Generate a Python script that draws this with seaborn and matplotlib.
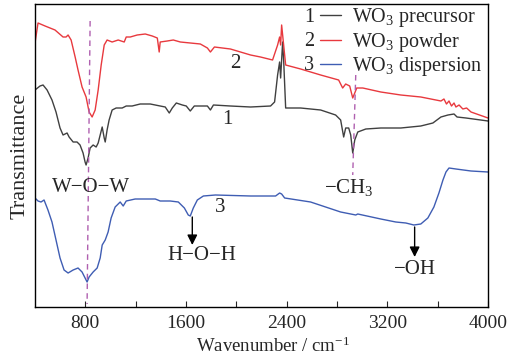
import numpy as np
import pandas as pd
import matplotlib
matplotlib.use("Agg")
import matplotlib.pyplot as plt
import seaborn as sns

# ---------------- data ----------------
wn_precursor = [400, 440, 464, 496, 535, 567, 599, 623, 655, 671, 703, 734, 758, 782, 798, 806,
                822, 838, 862, 886, 902, 918, 934, 950, 958, 973, 989, 1013, 1045, 1093, 1125,
                1172, 1236, 1316, 1395, 1435, 1467, 1491, 1523, 1571, 1602, 1634, 1666, 1714,
                1770, 1794, 1818, 1953, 2113, 2272, 2304, 2328, 2344, 2352, 2368, 2376, 2392,
                2511, 2670, 2789, 2829, 2853, 2869, 2893, 2909, 2925, 2941, 2965, 3029, 3148,
                3307, 3466, 3562, 3626, 3682, 3730, 3754, 3825, 4000]
t_precursor = [217, 221, 222, 217, 207, 195, 179, 172, 174, 170, 165, 165, 162, 154, 145, 142,
               149, 159, 162, 160, 164, 172, 180, 169, 165, 177, 187, 197, 199, 199, 201,
               201, 203, 203, 201, 200, 194, 199, 204, 202, 201, 196, 201, 201,
               201, 197, 202, 201, 200, 201, 205, 232, 245, 229, 265, 247, 199,
               199, 197, 192, 187, 170, 179, 179, 172, 154, 167, 175, 178, 179,
               179, 181, 184, 190, 192, 193, 190, 189, 186]

wn_powder = [400, 424, 480, 559, 623, 647, 663, 687, 719, 742, 774, 806, 830, 854, 878, 902,
             926, 950, 973, 1013, 1061, 1109, 1125, 1157, 1212, 1276, 1332, 1372, 1387, 1395,
             1451, 1499, 1555, 1714, 1770, 1794, 1826, 1953, 2113, 2192, 2288, 2328, 2344,
             2352, 2360, 2376, 2392, 2511, 2670, 2813, 2845, 2869, 2901, 2925, 2957, 3005,
             3148, 3307, 3466, 3626, 3650, 3670, 3690, 3710, 3730, 3745, 3770, 3800, 3830,
             3865, 4000]
t_powder = [264, 284, 281, 277, 270, 270, 272, 267, 250, 237, 220, 210, 195, 190, 197, 217,
            242, 262, 267, 265, 267, 265, 270, 270, 272, 273, 271, 269, 255, 265,
            266, 267, 265, 263, 259, 255, 260, 258, 252, 250, 247, 262, 270,
            262, 282, 262, 242, 238, 232, 227, 219, 223, 221, 209, 219, 219,
            215, 212, 210, 206, 208, 203, 206, 201, 204, 200, 202, 198, 199,
            195, 189]

wn_dispersion = [400, 424, 448, 472, 503, 535, 567, 599, 631, 663, 703, 742, 774, 798, 814, 830,
                 862, 894, 918, 934, 958, 981, 1005, 1037, 1077, 1101, 1125, 1196, 1276, 1356,
                 1395, 1475, 1539, 1587, 1618, 1634, 1658, 1690, 1738, 1834, 2113, 2312, 2344,
                 2360, 2384, 2590, 2829, 2949, 2965, 3148, 3267, 3347, 3411, 3466, 3522, 3570,
                 3610, 3642, 3666, 3690, 3745, 3865, 4000]
t_dispersion = [109, 106, 105, 107, 97, 85, 67, 49, 37, 34, 37, 39, 35, 29, 25, 30,
                35, 39, 49, 62, 67, 75, 89, 100, 105, 101, 106, 108, 108, 108,
                106, 106, 105, 99, 92, 91, 99, 107, 111, 112, 111, 111, 114,
                113, 109, 105, 95, 92, 93, 88, 85, 84, 82, 83, 89, 100,
                114, 127, 135, 139, 138, 136, 135]

series_labels = ["WO$_3$ precursor", "WO$_3$ powder", "WO$_3$ dispersion"]
series_numbers = ["1", "2", "3"]
x_ticks = [800, 1600, 2400, 3200, 4000]
x_minor_ticks = [1200, 2000, 2800, 3600]

# ---------------- style ----------------
sns.set_style("ticks")
plt.rcParams["font.family"] = ["Liberation Serif", "DejaVu Serif"]
plt.rcParams["mathtext.fontset"] = "custom"
plt.rcParams["mathtext.rm"] = "Liberation Serif"
plt.rcParams["mathtext.it"] = "Liberation Serif:italic"
plt.rcParams["axes.unicode_minus"] = True

colors = ["#404040", "#E8393E", "#3F5DB3"]

df = pd.concat([
    pd.DataFrame({"wn": wn_precursor, "T": t_precursor, "s": series_labels[0]}),
    pd.DataFrame({"wn": wn_powder, "T": t_powder, "s": series_labels[1]}),
    pd.DataFrame({"wn": wn_dispersion, "T": t_dispersion, "s": series_labels[2]}),
])

fig = plt.figure(figsize=(5.08, 3.59), dpi=100)
ax = fig.add_axes([35 / 508, 1 - 307 / 359, 453 / 508, 303 / 359])

sns.lineplot(data=df, x="wn", y="T", hue="s", palette=colors, sort=False,
             estimator=None, linewidth=1.0, ax=ax, legend=False)

ax.set_xlim(400, 4000)
ax.set_ylim(0, 303)
ax.set_xticks(x_ticks)
ax.set_xticks(x_minor_ticks, minor=True)
ax.set_yticks([])
ax.tick_params(axis="x", which="both", direction="in", length=4, width=0.8,
               labelsize=14, pad=6, top=False)
for sp in ax.spines.values():
    sp.set_linewidth(1.0)
    sp.set_color("black")

ax.set_xlabel("Wavenumber / cm$^{-1}$", fontsize=13.5, labelpad=3)
ax.xaxis.label.set_position(((273 - 35) / 453, 0))
ax.set_ylabel("Transmittance", fontsize=16, labelpad=4)

# dashed guide lines
ax.plot([838, 814], [286, 3], ls=(0, (4, 3)), color="#B060B0", lw=1.0)
ax.plot([2949, 2925], [232, 132], ls=(0, (4, 3)), color="#B060B0", lw=1.0)

# annotations
fs = 15
ax.text(1992, 244, "2", fontsize=fs, ha="center", va="center")
ax.text(1929, 187, "1", fontsize=fs, ha="center", va="center")
ax.text(1873, 99, "3", fontsize=fs, ha="center", va="center")
ax.text(845, 120, "W\u2212O\u2212W", fontsize=fs, ha="center", va="center")
ax.text(2893, 120, "\u2212CH$_3$", fontsize=fs, ha="center", va="center")
ax.text(1729, 51, "H\u2212O\u2212H", fontsize=fs, ha="center", va="center")
ax.text(3417, 37, "\u2212OH", fontsize=fs, ha="center", va="center")
arrow_kw = dict(arrowstyle="-|>,head_length=0.6,head_width=0.3", color="black", lw=1.0,
                shrinkA=0, shrinkB=0)
ax.annotate("", xy=(1650, 62), xytext=(1650, 90), arrowprops=arrow_kw)
ax.annotate("", xy=(3417, 50), xytext=(3417, 80), arrowprops=arrow_kw)

# legend
lfs = 14.5
handles = [plt.Line2D([], [], color=c, lw=1.0) for c in colors]
leg = ax.legend(handles, series_labels, loc="upper left",
                bbox_to_anchor=((320 - 35) / 453, 0.992), frameon=False,
                fontsize=lfs, handlelength=1.05, handletextpad=0.55,
                labelspacing=0.06, borderpad=0, borderaxespad=0)
for i, num in enumerate(series_numbers):
    ax.text((309 - 35) / 453, (307 - (18 + 23.5 * i)) / 303, num, fontsize=lfs,
            ha="center", va="center", transform=ax.transAxes)

fig.savefig("out.png", dpi=100)
